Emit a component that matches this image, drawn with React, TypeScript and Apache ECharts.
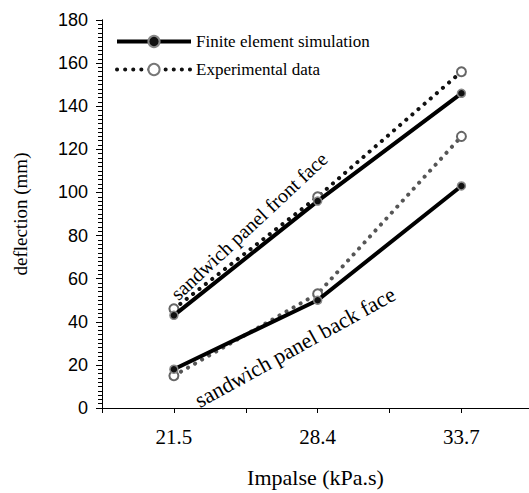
import React, { useEffect, useRef } from "react";
import * as echarts from "echarts";

const impulse = ["21.5", "28.4", "33.7"];
const feFront = [43, 96, 146];
const expFront = [46, 98, 156];
const feBack = [18, 50, 103];
const expBack = [15, 53, 126];
const yTicks = { min: 0, max: 180, interval: 20, minorInterval: 2 };

const pos = (i: number) => 1 + 2 * i;
const toPairs = (vals: number[]) => vals.map((v, i) => [pos(i), v]);

const SERIF = "Liberation Serif";
const SANS = "Liberation Sans";

export default function App() {
  const ref = useRef<HTMLDivElement>(null);
  useEffect(() => {
    if (!ref.current) return;
    const chart = echarts.init(ref.current, null, { renderer: "svg" });
    const feStyle = (color: string) => ({
      type: "line",
      name: "Finite element simulation",
      symbol: "circle",
      symbolSize: 8,
      z: 5,
      yAxisIndex: 0,
      lineStyle: { color, width: 4 },
      itemStyle: { color: "#111", borderColor: "#888", borderWidth: 1.5 },
    });
    const expStyle = (color: string) => ({
      type: "line",
      name: "Experimental data",
      symbol: "emptyCircle",
      symbolSize: 9,
      z: 3,
      yAxisIndex: 0,
      lineStyle: { color, width: 4, type: [0.1, 8], cap: "round" },
      itemStyle: { color: "#666", borderColor: "#666", borderWidth: 2 },
    });
    chart.setOption({
      animation: false,
      backgroundColor: "#fff",
      textStyle: { fontFamily: SERIF },
      grid: { left: 102, right: 0, top: 20, bottom: 85, containLabel: false },
      legend: {
        orient: "vertical",
        left: 115,
        top: 33,
        padding: 0,
        itemWidth: 74,
        itemHeight: 14,
        itemGap: 11,
        textStyle: { fontFamily: SERIF, fontSize: 17, color: "#000" },
        data: [
          {
            name: "Finite element simulation",
            lineStyle: { width: 4, color: "#000" },
          },
          {
            name: "Experimental data",
            lineStyle: { width: 4, color: "#111", type: [0.1, 8], cap: "round" },
            itemStyle: { color: "#777", borderColor: "#777" },
          },
        ],
      },
      xAxis: {
        type: "value",
        min: 0,
        max: 5.94,
        interval: 1,
        name: "Impalse (kPa.s)",
        nameLocation: "middle",
        nameGap: 58,
        nameTextStyle: { fontFamily: SERIF, fontSize: 22, color: "#000" },
        axisLine: { lineStyle: { color: "#000", width: 1 } },
        axisTick: { show: true, length: 5, lineStyle: { color: "#000" } },
        splitLine: { show: false },
        axisLabel: {
          margin: 18,
          fontFamily: SERIF,
          fontSize: 21,
          color: "#000",
          showMaxLabel: false,
          formatter: (v: number) => {
            const k = Math.round(v);
            if (k % 2 === 1) return impulse[(k - 1) / 2] ?? "";
            return "";
          },
        },
      },
      yAxis: [
        {
          type: "value",
          min: yTicks.min,
          max: yTicks.max,
          interval: yTicks.interval,
          name: "deflection (mm)",
          nameLocation: "middle",
          nameGap: 72,
          nameTextStyle: { fontFamily: SERIF, fontSize: 19, color: "#000" },
          axisLine: { show: true, lineStyle: { color: "#000", width: 1 } },
          axisTick: { show: true, inside: false, length: 6, lineStyle: { color: "#000", width: 1 } },
          splitLine: { show: false },
          axisLabel: { margin: 14, fontFamily: SANS, fontSize: 18, color: "#000" },
        },
        {
          type: "value",
          position: "left",
          offset: 0,
          min: yTicks.min,
          max: yTicks.max,
          interval: yTicks.minorInterval,
          axisLine: { show: true, lineStyle: { color: "#000", width: 1 } },
          axisTick: { show: true, inside: false, length: 4, lineStyle: { color: "#000", width: 1 } },
          splitLine: { show: false },
          axisLabel: { show: false },
        },
      ],
      graphic: [
        {
          type: "text",
          x: 249,
          y: 226,
          rotation: (43 * Math.PI) / 180,
          style: {
            text: "sandwich panel front face",
            fontFamily: SERIF,
            fontSize: 20,
            fill: "#000",
            align: "center",
            verticalAlign: "middle",
          },
        },
        {
          type: "text",
          x: 295,
          y: 347,
          rotation: (29 * Math.PI) / 180,
          style: {
            text: "sandwich panel back face",
            fontFamily: SERIF,
            fontSize: 22,
            fill: "#000",
            align: "center",
            verticalAlign: "middle",
          },
        },
      ],
      series: [
        { ...expStyle("#111"), data: toPairs(expFront) },
        { ...expStyle("#555"), data: toPairs(expBack) },
        { ...feStyle("#000"), data: toPairs(feFront) },
        { ...feStyle("#000"), data: toPairs(feBack) },
      ],
    });
    return () => chart.dispose();
  }, []);
  return (
    <div
      ref={ref}
      style={{ position: "fixed", left: 0, top: 0, width: 529, height: 493 }}
    />
  );
}
